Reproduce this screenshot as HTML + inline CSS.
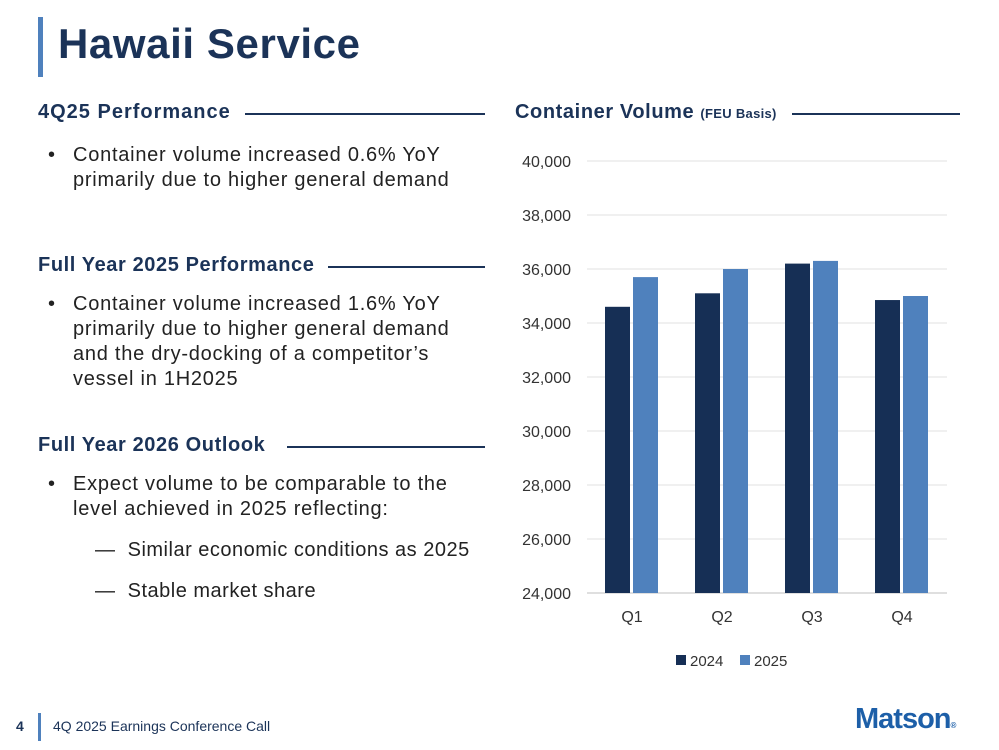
<!DOCTYPE html>
<html><head><meta charset="utf-8"><style>
body{margin:0;width:999px;height:750px;background:#fff;font-family:"Liberation Sans",sans-serif;position:relative;overflow:hidden;color:#1a1a1a}
.abs{position:absolute}
.h{color:#1b3358;font-weight:bold;font-size:20px;letter-spacing:0.6px;white-space:nowrap}
.rule{position:absolute;height:2px;background:#1b3358}
.b{font-size:20px;letter-spacing:0.5px;line-height:25px;color:#222;white-space:nowrap}
.bl{letter-spacing:0.75px}
</style></head><body>
<div class="abs" style="left:38px;top:17px;width:5px;height:60px;background:#4f81bd"></div>
<div class="abs" style="left:58px;top:20px;font-size:42px;letter-spacing:0.6px;font-weight:bold;color:#1b3358">Hawaii Service</div>

<div class="abs h" style="left:38px;top:101px;letter-spacing:1px">4Q25 Performance</div>
<div class="rule" style="left:245px;top:113px;width:240px"></div>
<div class="abs b bl" style="left:48px;top:143px"><span style="position:absolute;left:0">•</span><div style="margin-left:25px">Container volume increased 0.6% YoY<br>primarily due to higher general demand</div></div>

<div class="abs h" style="left:38px;top:254px">Full Year 2025 Performance</div>
<div class="rule" style="left:328px;top:266px;width:157px"></div>
<div class="abs b bl" style="left:48px;top:292px"><span style="position:absolute;left:0">•</span><div style="margin-left:25px">Container volume increased 1.6% YoY<br>primarily due to higher general demand<br>and the dry-docking of a competitor’s<br>vessel in 1H2025</div></div>

<div class="abs h" style="left:38px;top:434px">Full Year 2026 Outlook</div>
<div class="rule" style="left:287px;top:446px;width:198px"></div>
<div class="abs b bl" style="left:48px;top:472px"><span style="position:absolute;left:0">•</span><div style="margin-left:25px">Expect volume to be comparable to the<br>level achieved in 2025 reflecting:</div></div>
<div class="abs b" style="left:95px;top:538px">—&nbsp; Similar economic conditions as 2025</div>
<div class="abs b" style="left:95px;top:579px">—&nbsp; Stable market share</div>

<div class="abs h" style="left:515px;top:101px">Container Volume <span style="font-size:13px;letter-spacing:0.3px">(FEU Basis)</span></div>
<div class="rule" style="left:792px;top:113px;width:168px"></div>

<svg class="abs" style="left:0;top:0" width="999" height="750" id="chart"></svg>

<div class="abs" style="left:16px;top:718px;font-size:14px;font-weight:bold;color:#1b3358">4</div>
<div class="abs" style="left:38px;top:713px;width:3px;height:28px;background:#4f81bd"></div>
<div class="abs" style="left:53px;top:718px;font-size:14px;color:#1b3358">4Q 2025 Earnings Conference Call</div>
<div class="abs" style="left:855px;top:703px;font-size:29px;font-weight:bold;color:#1d5fa8;letter-spacing:-1px">Matson<span style="font-size:8px">®</span></div>

<script>
const categories=["Q1","Q2","Q3","Q4"];
const series2024=[34600,35100,36200,34850];
const series2025=[35700,36000,36300,35000];
const tickValues=[24000,26000,28000,30000,32000,34000,36000,38000,40000];
const seriesNames=["2024","2025"];
const colors=["#162f55","#4f81bd"];
const svg=document.getElementById('chart');
const NS="http://www.w3.org/2000/svg";
const x0=587,x1=947,yMin=24000,yMax=40000,yB=593,yT=161;
const y=v=>yB-(v-yMin)/(yMax-yMin)*(yB-yT);
const bw=(x1-x0)/categories.length;
function mk(t,a){const e=document.createElementNS(NS,t);for(const k in a)e.setAttribute(k,a[k]);svg.appendChild(e);return e;}
tickValues.forEach(v=>{
 const l=mk('line',{x1:x0,x2:x1,y1:y(v),y2:y(v),stroke:v===yMin?'#bfbfbf':'#e0e0e0','stroke-width':1});
 
 
 const t=mk('text',{x:571,y:y(v)+6,'text-anchor':'end','font-size':16,fill:'#333','font-family':'Liberation Sans, sans-serif'});
 t.textContent=v.toLocaleString('en-US');
 
 
});
[series2024,series2025].forEach((s,si)=>{
 s.forEach((v,i)=>{
  const cx=x0+bw*(i+0.5);
  const r=mk('rect',{x:si===0?cx-27:cx+1,y:y(v),width:25,height:yB-y(v),fill:colors[si]});
  
  
 });
});
categories.forEach((c,i)=>{
 const t=mk('text',{x:x0+bw*(i+0.5),y:622,'text-anchor':'middle','font-size':16,fill:'#333','font-family':'Liberation Sans, sans-serif'});
 t.textContent=c;
 
 
});
const lx=[676,740];
seriesNames.forEach((n,i)=>{
 const r=mk('rect',{x:lx[i],y:655,width:10,height:10,fill:colors[i]});
 
 
 const t=mk('text',{x:lx[i]+14,y:666,'font-size':15,fill:'#333','font-family':'Liberation Sans, sans-serif'});
 t.textContent=n;
 
 
});
</script>
</body></html>
